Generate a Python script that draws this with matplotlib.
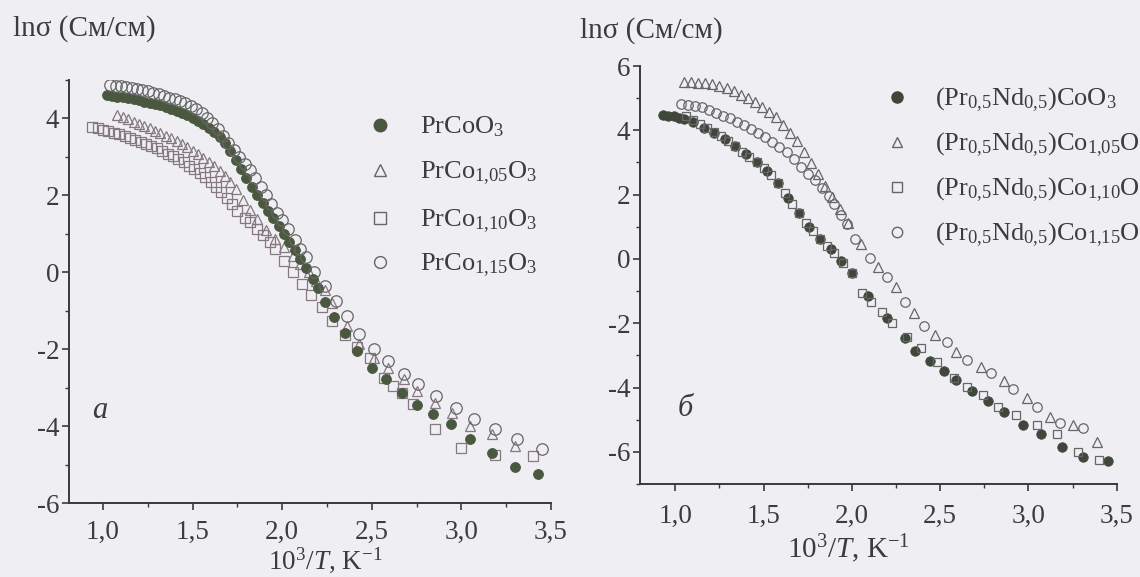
import matplotlib
matplotlib.use("Agg")
import matplotlib.pyplot as plt
from matplotlib.ticker import MultipleLocator, FuncFormatter

# ---------------- data: panel a ----------------
a_x_coo3 = [1.02,1.05,1.08,1.11,1.14,1.17,1.20,1.23,1.26,1.29,1.32,1.35,1.38,1.41,1.44,1.47,1.50,1.53,1.56,1.59,1.62,
            1.65,1.68,1.71,1.74,1.77,1.80,1.83,1.86,1.89,1.92,1.95,1.98,2.01,2.04,2.07,2.10,2.13,2.17,2.20,2.24,
            2.29,2.35,2.42,2.50,2.58,2.67,2.75,2.84,2.94,3.05,3.17,3.30,3.43]
a_y_coo3 = [4.61,4.59,4.57,4.55,4.52,4.50,4.47,4.44,4.41,4.37,4.34,4.30,4.25,4.20,4.14,4.08,4.01,3.93,3.85,3.76,3.66,
            3.52,3.35,3.15,2.93,2.70,2.45,2.22,2.01,1.80,1.60,1.41,1.21,1.01,0.80,0.58,0.36,0.12,-0.18,-0.40,-0.78,
            -1.17,-1.57,-2.05,-2.48,-2.78,-3.14,-3.45,-3.69,-3.95,-4.34,-4.68,-5.05,-5.24]

a_x_105 = [1.08,1.11,1.14,1.17,1.20,1.23,1.26,1.29,1.32,1.35,1.38,1.41,1.44,1.47,1.50,1.53,1.56,1.59,1.62,1.65,
           1.68,1.71,1.74,1.78,1.82,1.86,1.91,1.96,2.01,2.06,2.10,2.15,2.19,2.24,2.28,2.36,2.43,2.51,2.59,2.68,
           2.75,2.85,2.95,3.05,3.17,3.30]
a_y_105 = [4.09,4.04,3.98,3.92,3.86,3.80,3.74,3.68,3.62,3.55,3.48,3.41,3.33,3.25,3.16,3.07,2.97,2.87,2.76,2.64,
           2.50,2.34,2.16,1.87,1.62,1.38,1.09,0.87,0.65,0.42,0.22,0.00,-0.22,-0.45,-0.80,-1.40,-1.86,-2.22,-2.49,-2.78,
           -3.09,-3.40,-3.66,-4.00,-4.21,-4.52]

a_x_110 = [0.94,0.97,1.00,1.03,1.06,1.09,1.12,1.15,1.18,1.21,1.24,1.27,1.30,1.33,1.36,1.39,1.42,1.45,1.48,1.51,
           1.54,1.57,1.60,1.63,1.66,1.69,1.72,1.75,1.79,1.82,1.86,1.89,1.93,1.96,2.01,2.06,2.11,2.16,2.22,2.28,
           2.35,2.42,2.49,2.57,2.62,2.67,2.73,2.85,3.00,3.19,3.40]
a_y_110 = [3.79,3.75,3.71,3.67,3.63,3.59,3.54,3.49,3.44,3.39,3.34,3.28,3.22,3.16,3.09,3.02,2.94,2.86,2.77,2.68,
           2.58,2.47,2.35,2.22,2.08,1.93,1.77,1.60,1.42,1.30,1.12,0.98,0.78,0.60,0.30,0.00,-0.30,-0.60,-0.90,-1.25,
           -1.62,-1.95,-2.22,-2.75,-2.95,-3.14,-3.43,-4.08,-4.57,-4.74,-4.78]

a_x_115 = [1.04,1.07,1.10,1.13,1.16,1.19,1.22,1.25,1.28,1.31,1.34,1.37,1.40,1.43,1.46,1.49,1.52,1.55,1.58,1.61,
           1.64,1.67,1.70,1.73,1.76,1.79,1.82,1.85,1.88,1.91,1.94,1.97,2.00,2.03,2.07,2.10,2.13,2.18,2.24,2.30,
           2.36,2.43,2.51,2.59,2.68,2.76,2.86,2.97,3.07,3.19,3.31,3.45]
a_y_115 = [4.87,4.85,4.84,4.82,4.80,4.77,4.74,4.71,4.67,4.63,4.59,4.54,4.50,4.45,4.39,4.32,4.24,4.14,4.02,3.88,
           3.72,3.55,3.37,3.18,3.00,2.82,2.65,2.45,2.23,2.02,1.78,1.55,1.35,1.12,0.83,0.60,0.39,0.00,-0.35,-0.74,
           -1.12,-1.60,-1.99,-2.30,-2.64,-2.90,-3.22,-3.53,-3.82,-4.08,-4.34,-4.60]

# ---------------- data: panel b ----------------
b_x_coo3 = [0.93,0.96,0.99,1.02,1.05,1.10,1.16,1.22,1.28,1.34,1.40,1.46,1.52,1.58,1.64,1.70,1.76,1.82,1.88,1.94,
            2.00,2.09,2.20,2.30,2.36,2.44,2.52,2.59,2.68,2.77,2.86,2.97,3.07,3.19,3.31,3.45]
b_y_coo3 = [4.48,4.46,4.43,4.39,4.35,4.26,4.08,3.93,3.74,3.50,3.26,3.00,2.72,2.35,1.88,1.42,0.98,0.62,0.30,-0.05,
            -0.45,-1.15,-1.85,-2.45,-2.85,-3.19,-3.50,-3.75,-4.12,-4.43,-4.75,-5.15,-5.46,-5.86,-6.17,-6.30]

b_x_105 = [1.05,1.09,1.13,1.17,1.21,1.25,1.29,1.33,1.37,1.41,1.45,1.49,1.53,1.57,1.61,1.65,1.69,1.73,1.77,1.81,
           1.85,1.89,1.93,1.98,2.05,2.15,2.25,2.35,2.47,2.59,2.73,2.86,2.99,3.12,3.25,3.39]
b_y_105 = [5.51,5.50,5.48,5.46,5.43,5.38,5.31,5.22,5.11,5.00,4.88,4.74,4.58,4.40,4.17,3.92,3.66,3.32,2.98,2.63,
           2.28,1.93,1.55,1.12,0.45,-0.24,-0.86,-1.67,-2.36,-2.88,-3.35,-3.81,-4.31,-4.93,-5.18,-5.68]

b_x_110 = [1.06,1.10,1.14,1.18,1.22,1.26,1.30,1.34,1.38,1.42,1.46,1.50,1.54,1.58,1.62,1.66,1.70,1.74,1.78,1.82,
           1.86,1.90,1.95,2.00,2.06,2.11,2.17,2.23,2.31,2.39,2.48,2.58,2.65,2.74,2.83,2.93,3.05,3.16,3.28,3.40]
b_y_110 = [4.44,4.32,4.19,4.07,3.95,3.82,3.68,3.52,3.34,3.17,3.00,2.82,2.60,2.35,2.05,1.72,1.42,1.12,0.86,0.63,
           0.41,0.18,-0.12,-0.45,-1.05,-1.33,-1.64,-1.98,-2.42,-2.76,-3.22,-3.69,-3.97,-4.22,-4.59,-4.84,-5.15,-5.46,-5.99,-6.24]

b_x_115 = [1.03,1.07,1.11,1.15,1.19,1.23,1.27,1.31,1.35,1.39,1.43,1.47,1.51,1.55,1.59,1.63,1.67,1.71,1.75,1.79,
           1.83,1.87,1.90,1.94,1.97,2.02,2.10,2.20,2.30,2.41,2.54,2.65,2.79,2.91,3.05,3.18,3.31]
b_y_115 = [4.81,4.80,4.77,4.72,4.64,4.55,4.46,4.37,4.27,4.15,4.03,3.91,3.79,3.65,3.49,3.32,3.10,2.87,2.65,2.45,
           2.22,1.95,1.72,1.38,1.10,0.62,0.04,-0.55,-1.33,-2.10,-2.57,-3.13,-3.54,-4.06,-4.62,-5.09,-5.25]

labels_a = [r"PrCoO$_3$", r"PrCo$_{1{,}05}$O$_3$", r"PrCo$_{1{,}10}$O$_3$", r"PrCo$_{1{,}15}$O$_3$"]
labels_b = [r"(Pr$_{0{,}5}$Nd$_{0{,}5}$)CoO$_3$", r"(Pr$_{0{,}5}$Nd$_{0{,}5}$)Co$_{1{,}05}$O$_3$",
            r"(Pr$_{0{,}5}$Nd$_{0{,}5}$)Co$_{1{,}10}$O$_3$", r"(Pr$_{0{,}5}$Nd$_{0{,}5}$)Co$_{1{,}15}$O$_3$"]
y_label = "lnσ (См/см)"
x_label = r"10$^3$/$\mathit{T}$, K$^{-1}$"

# ---------------- style ----------------
plt.rcParams["font.family"] = ["Liberation Serif", "DejaVu Serif"]
plt.rcParams["mathtext.fontset"] = "custom"
plt.rcParams["mathtext.rm"] = "Liberation Serif"
plt.rcParams["mathtext.it"] = "Liberation Serif:italic"
plt.rcParams["mathtext.default"] = "regular"

W, H = 1140, 577
BG = "#efeef3"
TXT = "#3c3c3c"
AX = "#3a3a3a"
FILL_A = "#4b5840"
FILL_B = "#3e473a"
OPEN_C = "#666666"
OPEN_TS = "#85787f"

fig = plt.figure(figsize=(W / 100, H / 100), dpi=100, facecolor=BG)


def fpos(x, y):
    return x / W, 1 - y / H


def style_axes(ax, xlim, ylim, xpad):
    ax.set_facecolor("none")
    ax.set_xlim(*xlim)
    ax.set_ylim(*ylim)
    for s in ("top", "right"):
        ax.spines[s].set_visible(False)
    for s in ("left", "bottom"):
        ax.spines[s].set_color(AX)
        ax.spines[s].set_linewidth(1.4)
    ax.xaxis.set_major_locator(MultipleLocator(0.5))
    ax.xaxis.set_minor_locator(MultipleLocator(0.25))
    ax.yaxis.set_major_locator(MultipleLocator(2))
    ax.yaxis.set_minor_locator(MultipleLocator(1))
    ax.xaxis.set_major_formatter(FuncFormatter(lambda v, p: f"{v:.1f}".replace(".", ",")))
    ax.yaxis.set_major_formatter(FuncFormatter(lambda v, p: f"{int(round(v))}"))
    ax.tick_params(which="major", direction="out", length=5, width=1.2, color=AX,
                   labelsize=19.5, labelcolor=TXT)
    ax.tick_params(which="minor", direction="out", length=3, width=1.0, color=AX)
    ax.tick_params(axis="x", which="major", pad=xpad)
    ax.tick_params(axis="y", which="major", pad=2)


# panel a
axa = fig.add_axes([69 / W, 1 - 503.3 / H, (551 - 69) / W, (503.3 - 80) / H])
style_axes(axa, (0.81, 3.5), (-6, 5), 7)
ms_a = 7.5
axa.plot(a_x_110, a_y_110, ls="none", marker="s", ms=ms_a * 0.9, mfc="none", mec=OPEN_TS, mew=0.9)
axa.plot(a_x_105, a_y_105, ls="none", marker="^", ms=ms_a, mfc="none", mec=OPEN_TS, mew=0.9)
axa.plot(a_x_coo3, a_y_coo3, ls="none", marker="o", ms=ms_a * 0.95, mfc=FILL_A, mec=FILL_A, mew=0.6)
axa.plot(a_x_115, a_y_115, ls="none", marker="o", ms=ms_a * 1.1, mfc="none", mec=OPEN_C, mew=0.9)

# panel b
axb = fig.add_axes([640 / W, 1 - 484 / H, (1116.7 - 640) / W, (484 - 66) / H])
style_axes(axb, (0.80, 3.5), (-7, 6), 9)
ms_b = 6.8
axb.plot(b_x_coo3, b_y_coo3, ls="none", marker="o", ms=ms_b, mfc=FILL_B, mec=FILL_B, mew=0.6)
axb.plot(b_x_110, b_y_110, ls="none", marker="s", ms=ms_b * 0.9, mfc="none", mec=OPEN_C, mew=0.9)
axb.plot(b_x_105, b_y_105, ls="none", marker="^", ms=ms_b, mfc="none", mec=OPEN_C, mew=0.9)
axb.plot(b_x_115, b_y_115, ls="none", marker="o", ms=ms_b, mfc="none", mec=OPEN_C, mew=0.9)

# axis titles
fig.text(*fpos(13, 29), y_label, fontsize=21, color=TXT, ha="left", va="center")
fig.text(*fpos(580, 31), y_label, fontsize=21, color=TXT, ha="left", va="center")
fig.text(*fpos(325, 569), x_label, fontsize=19.5, color=TXT, ha="center", va="baseline")
fig.text(*fpos(848, 558), x_label, fontsize=21, color=TXT, ha="center", va="baseline")
fig.text(*fpos(100, 410), "a", fontsize=22, color=TXT, ha="center", va="center", style="italic")
fig.text(*fpos(685, 408), "б", fontsize=22, color=TXT, ha="center", va="center", style="italic")

# legends (hand-placed as in the original)
leg_markers = [("o", True), ("^", False), ("s", False), ("o", False)]
for (mk, filled), lab, yy in zip(leg_markers, labels_a, [125, 170, 218, 262]):
    fig.lines.append(plt.Line2D([380 / W], [1 - yy / H], transform=fig.transFigure, ls="none",
                                marker=mk, ms=9 if filled else 8.5,
                                mfc=FILL_A if filled else "none", mec=FILL_A if filled else OPEN_C, mew=1.0))
    fig.text(420 / W, 1 - (yy + 8) / H, lab, fontsize=19, color=TXT, ha="left", va="baseline")
for (mk, filled), lab, yy in zip(leg_markers, labels_b, [97, 142, 187, 232]):
    fig.lines.append(plt.Line2D([897 / W], [1 - yy / H], transform=fig.transFigure, ls="none",
                                marker=mk, ms=8 if filled else 7.5,
                                mfc=FILL_B if filled else "none", mec=FILL_B if filled else OPEN_C, mew=1.0))
    fig.text(935 / W, 1 - (yy + 8) / H, lab, fontsize=19, color=TXT, ha="left", va="baseline")

fig.savefig("out.png", dpi=100, facecolor=BG)
